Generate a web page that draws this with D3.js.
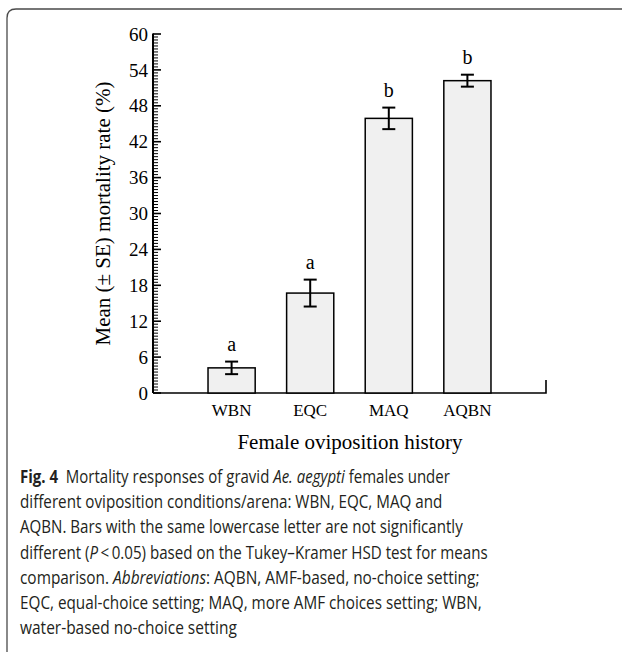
<!DOCTYPE html>
<html><head><meta charset="utf-8">
<script src="https://cdn.jsdelivr.net/npm/d3@7"></script>
<style>
html,body{margin:0;padding:0;background:#fff;}
svg{display:block;}
</style></head>
<body>
<script>
const categories = ["WBN", "EQC", "MAQ", "AQBN"];
const means = [4.2, 16.7, 45.9, 52.2];
const errors = [1.05, 2.25, 1.8, 1.0];
const letters = ["a", "a", "b", "b"];
const yTicks = [0, 6, 12, 18, 24, 30, 36, 42, 48, 54, 60];
const yLabel = "Mean (\u00B1 SE) mortality rate (%)";
const xLabel = "Female oviposition history";
const captionLines = [
  [{t:"Fig. 4", s:"bold"}, {t:"  Mortality responses of gravid "}, {t:"Ae. aegypti", s:"italic"}, {t:" females under"}],
  [{t:"different oviposition conditions/arena: WBN, EQC, MAQ and"}],
  [{t:"AQBN. Bars with the same lowercase letter are not significantly"}],
  [{t:"different ("}, {t:"P", s:"italic"}, {t:"\u2009<\u20090.05) based on the Tukey\u2013Kramer HSD test for means"}],
  [{t:"comparison. "}, {t:"Abbreviations", s:"italic"}, {t:": AQBN, AMF-based, no-choice setting;"}],
  [{t:"EQC, equal-choice setting; MAQ, more AMF choices setting; WBN,"}],
  [{t:"water-based no-choice setting"}]
];
const captionWidths = [430, 423, 443, 468, 460, 462, 217];

const W = 624, H = 655;
const svg = d3.select("body").append("svg").attr("width", W).attr("height", H);

// frame (left + top, rounded corner)
svg.append("path")
  .attr("d", "M7,652 L7,18 Q7,9 16,9 L622,9")
  .attr("fill", "none").attr("stroke", "#4a4a4a").attr("stroke-width", 1.3);

const pLeft = 153, pRight = 546, pTop = 34, pBottom = 393;
const x = d3.scaleBand().domain(categories).range([pLeft, pRight]).paddingInner(0.4).paddingOuter(0.7);
const y = d3.scaleLinear().domain([0, 60]).range([pBottom, pTop]);

const serif = "'Liberation Serif', 'Times New Roman', serif";

// minor ticks
const minor = d3.range(0, 60.001, 0.5);
svg.append("g").selectAll("line").data(minor).join("line")
  .attr("x1", pLeft).attr("x2", d => (d % 6 === 0) ? pLeft + 8 : pLeft + 5)
  .attr("y1", d => y(d)).attr("y2", d => y(d))
  .attr("stroke", "#000").attr("stroke-width", d => (d % 6 === 0) ? 1.6 : 1);

// y axis line
svg.append("line").attr("x1", pLeft).attr("x2", pLeft).attr("y1", y(60) - 0.5).attr("y2", pBottom)
  .attr("stroke", "#000").attr("stroke-width", 2);
// x axis line + right end tick
svg.append("path").attr("d", `M${pLeft},${pBottom}H${pRight}V${pBottom - 13}`)
  .attr("fill", "none").attr("stroke", "#000").attr("stroke-width", 1.6);

// y tick labels
svg.append("g").selectAll("text").data(yTicks).join("text")
  .attr("x", pLeft - 5).attr("y", d => y(d)).attr("dy", "0.35em")
  .attr("text-anchor", "end").attr("font-family", serif).attr("font-size", 19)
  .text(d => d);

// bars
const data = categories.map((c, i) => ({c, m: means[i], e: errors[i], l: letters[i]}));
svg.append("g").selectAll("rect").data(data).join("rect")
  .attr("x", d => x(d.c)).attr("width", x.bandwidth())
  .attr("y", d => y(d.m)).attr("height", d => y(0) - y(d.m))
  .attr("fill", "#f0f0f0").attr("stroke", "#000").attr("stroke-width", 1.5);

// error bars
const eb = svg.append("g").attr("stroke", "#000").attr("stroke-width", 2);
data.forEach(d => {
  const cx = x(d.c) + x.bandwidth() / 2;
  eb.append("line").attr("x1", cx).attr("x2", cx).attr("y1", y(d.m + d.e)).attr("y2", y(d.m - d.e));
  eb.append("line").attr("x1", cx - 6.5).attr("x2", cx + 6.5).attr("y1", y(d.m + d.e)).attr("y2", y(d.m + d.e));
  eb.append("line").attr("x1", cx - 6.5).attr("x2", cx + 6.5).attr("y1", y(d.m - d.e)).attr("y2", y(d.m - d.e));
});

// letters
svg.append("g").selectAll("text").data(data).join("text")
  .attr("x", d => x(d.c) + x.bandwidth() / 2).attr("y", d => y(d.m + d.e) - 11)
  .attr("text-anchor", "middle").attr("font-family", serif).attr("font-size", 20)
  .text(d => d.l);

// x tick labels
svg.append("g").selectAll("text").data(categories).join("text")
  .attr("x", d => x(d) + x.bandwidth() / 2).attr("y", 416)
  .attr("text-anchor", "middle").attr("font-family", serif).attr("font-size", 17)
  .text(d => d);

// x title
svg.append("text").attr("x", 350).attr("y", 449).attr("text-anchor", "middle")
  .attr("font-family", serif).attr("font-size", 21).text(xLabel);

// y title
svg.append("text").attr("transform", `translate(110,${(pTop + pBottom) / 2}) rotate(-90)`)
  .attr("text-anchor", "middle").attr("font-family", serif).attr("font-size", 21).text(yLabel);

// caption: each line horizontally scaled to the reference width
const cap = svg.append("g").attr("font-family", "'Open Sans', 'Noto Sans', sans-serif")
  .attr("font-size", 17.5).attr("fill", "#231f20");
captionLines.forEach((line, i) => {
  const t = cap.append("text").attr("x", 0).attr("y", 0)
    .attr("xml:space", "preserve").style("white-space", "pre");
  line.forEach(seg => {
    const ts = t.append("tspan").text(seg.t);
    if (seg.s === "bold") ts.attr("font-weight", "bold");
    if (seg.s === "italic") ts.attr("font-style", "italic");
  });
  const nat = t.node().getComputedTextLength();
  const sx = nat > 0 ? captionWidths[i] / nat : 1;
  t.attr("transform", `translate(20,${483 + i * 25.2}) scale(${sx},1)`);
});
</script>
</body></html>
